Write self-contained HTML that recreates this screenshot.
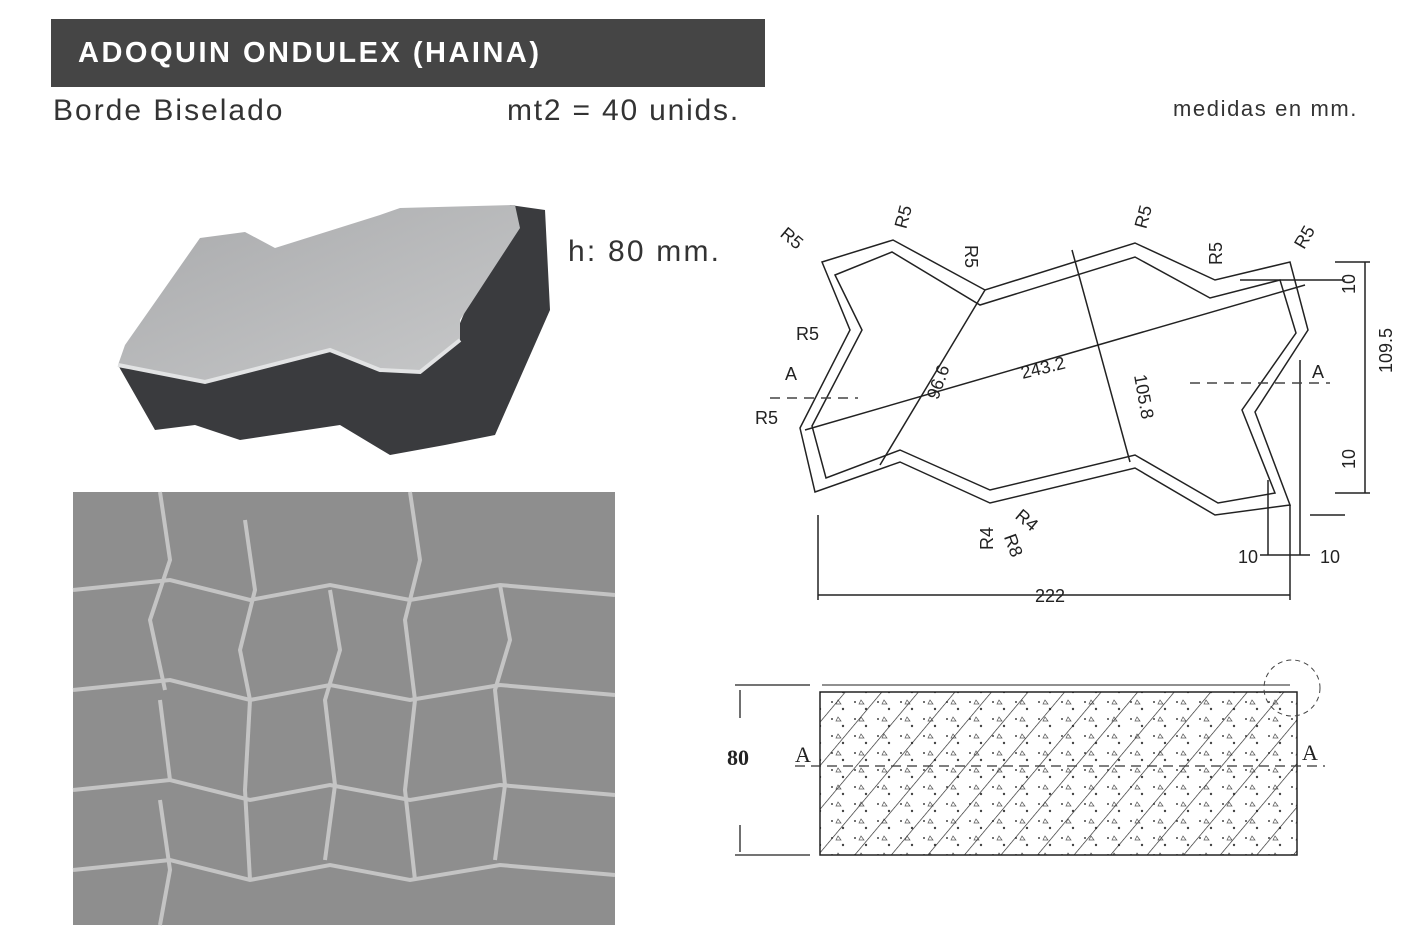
<!DOCTYPE html>
<html><head><meta charset="utf-8"><style>
body{margin:0;width:1406px;height:944px;background:#fff;overflow:hidden;position:relative;font-family:"Liberation Sans",sans-serif}
.hdr{position:absolute;left:51px;top:19px;width:714px;height:68px;background:#454545;color:#fff;font-weight:bold;font-size:29px;line-height:68px;padding-left:27px;box-sizing:border-box;letter-spacing:2.5px}
.t{position:absolute;color:#333;white-space:nowrap}
</style></head><body>
<div class="hdr">ADOQUIN ONDULEX (HAINA)</div>
<div class="t" style="left:53px;top:94px;font-size:30px;letter-spacing:2px">Borde Biselado</div>
<div class="t" style="left:507px;top:94px;font-size:30px;letter-spacing:1.8px">mt2 = 40 unids.</div>
<div class="t" style="left:1173px;top:96px;font-size:22px;letter-spacing:1.6px">medidas en mm.</div>
<div class="t" style="left:568px;top:235px;font-size:30px;letter-spacing:2.2px">h: 80 mm.</div>
<svg width="1406" height="944" style="position:absolute;left:0;top:0">
<defs><linearGradient id="tg" x1="0" y1="0" x2="1" y2="1"><stop offset="0" stop-color="#a9aaac"/><stop offset="1" stop-color="#c8c9ca"/></linearGradient></defs>
<polygon points="118,365 155,430 195,425 240,440 340,425 390,455 445,445 495,435 550,310 545,210 510,205 455,335 390,360 305,345 190,375" fill="#3a3b3e"/>
<polygon points="125,345 200,238 245,232 275,248 380,215 400,208 515,205 520,228 460,320 460,340 420,372 380,370 330,350 205,382 190,378 118,365" fill="url(#tg)"/>
<path d="M118,365 L205,382 L330,350 L380,370 L420,372 L460,340" stroke="#e2e3e4" stroke-width="4" fill="none"/>
<rect x="73" y="492" width="542" height="433" fill="#8e8e8e"/>
<g stroke="#c4c4c4" stroke-width="4" fill="none">
<path d="M73,590 L170,580 L250,600 L330,585 L410,600 L500,585 L615,595"/>
<path d="M73,690 L170,680 L250,700 L330,685 L410,700 L500,685 L615,695"/>
<path d="M73,790 L170,780 L250,800 L330,785 L410,800 L500,785 L615,795"/>
<path d="M73,870 L170,860 L250,880 L330,865 L410,880 L500,865 L615,875"/>
<path d="M160,492 L170,560 L150,620 L165,690"/><path d="M245,520 L255,590 L240,650 L250,700 L245,790 L250,880"/>
<path d="M330,590 L340,650 L325,700 L335,785 L325,860"/><path d="M410,492 L420,560 L405,620 L415,700 L405,790 L415,880"/>
<path d="M500,585 L510,640 L495,690 L505,785 L495,860"/><path d="M160,700 L170,780"/><path d="M160,800 L170,870 L160,925"/>
</g>
<g stroke="#222" stroke-width="1.5" fill="none">
<polygon points="822,262 893,240 985,290 1135,243 1215,280 1290,262 1308,330 1255,412 1290,505 1215,515 1135,468 990,503 900,462 815,492 800,428 850,330"/>
<polygon points="835,275 892,252 980,305 1135,257 1210,298 1280,280 1296,333 1242,410 1275,493 1218,503 1135,455 990,490 900,450 826,478 812,426 862,330"/>
<line x1="805" y1="430" x2="1305" y2="285"/>
<line x1="985" y1="290" x2="880" y2="465"/>
<line x1="1072" y1="250" x2="1130" y2="462"/>
<line x1="818" y1="515" x2="818" y2="600"/><line x1="1290" y1="505" x2="1290" y2="600"/>
<line x1="818" y1="595" x2="1290" y2="595"/>
<line x1="1335" y1="262" x2="1370" y2="262"/><line x1="1335" y1="493" x2="1370" y2="493"/><line x1="1365" y1="262" x2="1365" y2="493"/>
<line x1="1240" y1="280" x2="1345" y2="280"/><line x1="1310" y1="515" x2="1345" y2="515"/>
<line x1="1268" y1="480" x2="1268" y2="555"/><line x1="1300" y1="360" x2="1300" y2="555"/>
<line x1="1260" y1="555" x2="1310" y2="555"/>
</g>
<g stroke="#444" stroke-width="1.5" stroke-dasharray="10,7"><line x1="770" y1="398" x2="858" y2="398"/><line x1="1190" y1="383" x2="1330" y2="383"/></g>
<g font-family="Liberation Sans" font-size="18" fill="#222">
<text x="780" y="243" transform="rotate(40 790 238)">R5</text><text x="892" y="225" transform="rotate(-75 902 218)">R5</text>
<text x="960" y="260" transform="rotate(90 970 255)">R5</text><text x="1132" y="225" transform="rotate(-75 1142 218)">R5</text>
<text x="1205" y="262" transform="rotate(-90 1215 255)">R5</text><text x="1293" y="245" transform="rotate(-60 1303 238)">R5</text>
<text x="796" y="340">R5</text><text x="755" y="424">R5</text><text x="785" y="380">A</text><text x="1312" y="378">A</text>
<text x="1020" y="372" transform="rotate(-14 1050 365)">243.2</text>
<text x="920" y="385" transform="rotate(-70 940 380)">96.6</text>
<text x="1095" y="368" transform="rotate(80 1110 395)">105.8</text>
<text x="1035" y="602">222</text><text x="1238" y="563">10</text><text x="1320" y="563">10</text>
<text x="1352" y="305" transform="rotate(-90 1348 298)">10</text><text x="1352" y="480" transform="rotate(-90 1348 473)">10</text>
<text x="1375" y="400" transform="rotate(-90 1370 378)">109.5</text>
<text x="975" y="548" transform="rotate(-90 985 540)">R4</text><text x="1000" y="548" transform="rotate(70 1010 545)">R8</text><text x="1015" y="525" transform="rotate(40 1025 520)">R4</text>
</g>
<defs><pattern id="h" width="28" height="28" patternUnits="userSpaceOnUse" patternTransform="rotate(40)"><line x1="0" y1="0" x2="0" y2="28" stroke="#222" stroke-width="1.3"/></pattern>
<pattern id="d" width="23" height="17" patternUnits="userSpaceOnUse"><circle cx="4" cy="5" r="1" fill="#444"/><circle cx="15" cy="12" r="1.2" fill="#444"/><path d="M10,3 l3,4 h-5z" fill="none" stroke="#555" stroke-width=".7"/></pattern></defs>
<rect x="820" y="692" width="477" height="163" fill="url(#d)"/>
<rect x="820" y="692" width="477" height="163" fill="url(#h)" stroke="#222" stroke-width="1.5"/>
<line x1="822" y1="685" x2="1290" y2="685" stroke="#222"/>
<circle cx="1292" cy="688" r="28" fill="none" stroke="#444" stroke-dasharray="5,4"/>
<line x1="795" y1="766" x2="1325" y2="766" stroke="#333" stroke-dasharray="10,6" stroke-width="1.3"/>
<g stroke="#222" stroke-width="1.3"><line x1="735" y1="685" x2="810" y2="685"/><line x1="735" y1="855" x2="810" y2="855"/><line x1="740" y1="690" x2="740" y2="718"/><line x1="740" y1="825" x2="740" y2="852"/></g>
<g font-family="Liberation Serif" font-size="22" fill="#222"><text x="727" y="765" font-weight="bold">80</text><text x="795" y="762">A</text><text x="1302" y="760">A</text></g>
</svg>
</body></html>
